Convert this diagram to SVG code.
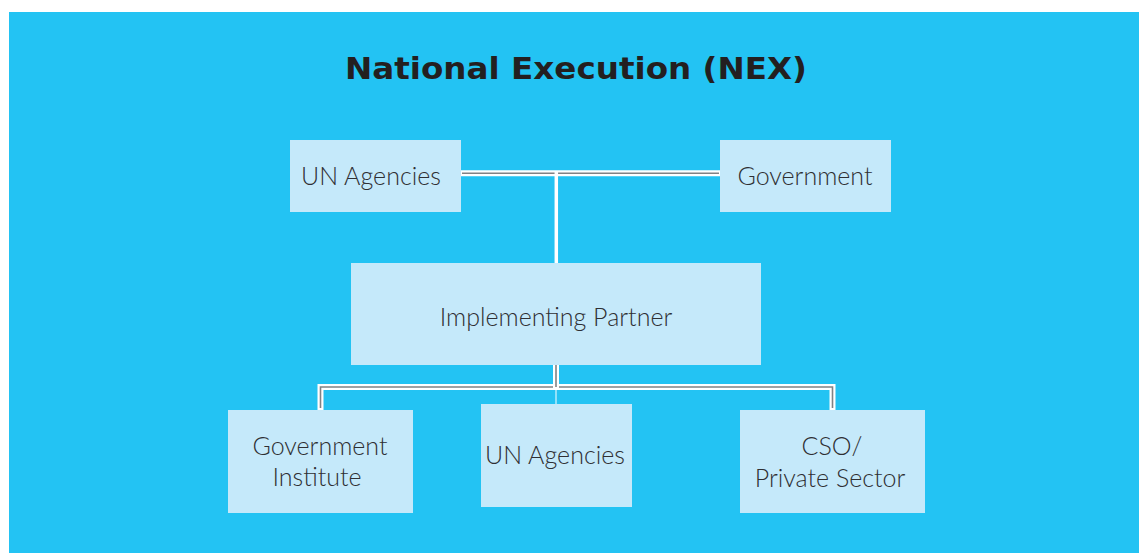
<svg xmlns="http://www.w3.org/2000/svg" width="1139" height="553" viewBox="0 0 1139 553">
  <style>
    .box { fill: #C5E9FA; }
    .lbl { font-family: Lato, "Open Sans", sans-serif; font-weight: 300; font-size: 25px; fill: #2f2f33; text-anchor: middle; }
    .title { font-family: "DejaVu Sans", Lato, sans-serif; font-weight: 700; font-size: 30px; fill: #231f20; text-anchor: middle; }
    .rail { fill: none; stroke: #ffffff; stroke-width: 6; }
    .core { fill: none; stroke: #808285; stroke-width: 1.6; }
  </style>
  <rect x="0" y="0" width="1139" height="553" fill="#ffffff"/>
  <rect x="9" y="12" width="1130" height="541" fill="#23C3F3"/>

  <text class="title" x="576" y="79" textLength="462" lengthAdjust="spacingAndGlyphs">National Execution (NEX)</text>

  <!-- connectors -->
  <g id="connectors">
    <!-- top: partners joined to implementing partner -->
    <line class="rail" x1="460" y1="173.3" x2="721" y2="173.3" stroke-width="5"/>
    <line class="core" x1="462" y1="173.3" x2="719" y2="173.3"/>
    <line x1="556.3" y1="171" x2="556.3" y2="264" stroke="#ffffff" stroke-width="3.5"/>
    <!-- bottom: implementing partner to sub-partners -->
    <path class="rail" d="M320.5 410 V387 H832.5 V410"/>
    <path class="core" d="M320.5 408 V387 H832.5 V408"/>
    <line class="rail" x1="556" y1="363" x2="556" y2="388" stroke-width="5"/>
    <line class="core" x1="556" y1="364" x2="556" y2="387"/>
    <line x1="556" y1="389" x2="556" y2="405" stroke="#ffffff" stroke-width="1"/>
  </g>

  <g id="un-agencies-top">
    <rect class="box" x="290" y="140" width="171" height="72"/>
    <text class="lbl" x="371" y="185">UN Agencies</text>
  </g>
  <g id="government">
    <rect class="box" x="720" y="140" width="171" height="72"/>
    <text class="lbl" x="805" y="185">Government</text>
  </g>
  <g id="implementing-partner">
    <rect class="box" x="351" y="263" width="410" height="102"/>
    <text class="lbl" x="556" y="326">Implementing Partner</text>
  </g>
  <g id="government-institute">
    <rect class="box" x="228" y="410" width="185" height="103"/>
    <text class="lbl" x="320" y="455">Government</text>
    <text class="lbl" x="317" y="486">Institute</text>
  </g>
  <g id="un-agencies-bottom">
    <rect class="box" x="481" y="404" width="151" height="103"/>
    <text class="lbl" x="555" y="464">UN Agencies</text>
  </g>
  <g id="cso-private-sector">
    <rect class="box" x="740" y="410" width="185" height="103"/>
    <text class="lbl" x="832" y="455">CSO/</text>
    <text class="lbl" x="830" y="487">Private Sector</text>
  </g>
</svg>
